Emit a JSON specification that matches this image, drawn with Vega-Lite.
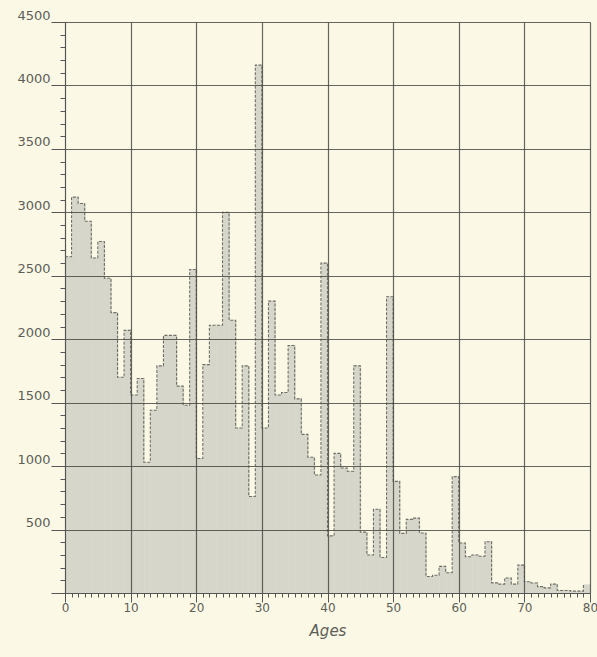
{
  "$schema": "https://vega.github.io/schema/vega-lite/v6.json",
  "autosize": "none",
  "width": 525,
  "height": 571,
  "padding": {"left": 65, "top": 22, "right": 7, "bottom": 64},
  "background": "#fbf9e6",
  "config": {
    "view": {"stroke": null},
    "axis": {"labelFont": "DejaVu Sans", "titleFont": "DejaVu Sans", "labelColor": "#5e5e58", "titleColor": "#5e5e58", "domainColor": "#555", "tickColor": "#555", "gridColor": "#4a4a44"}
  },
  "data": {
    "values": [
      {"age": 0, "count": 2650}, {"age": 1, "count": 3120}, {"age": 2, "count": 3070}, {"age": 3, "count": 2930},
      {"age": 4, "count": 2640}, {"age": 5, "count": 2770}, {"age": 6, "count": 2480}, {"age": 7, "count": 2210},
      {"age": 8, "count": 1700}, {"age": 9, "count": 2070}, {"age": 10, "count": 1560}, {"age": 11, "count": 1690},
      {"age": 12, "count": 1030}, {"age": 13, "count": 1440}, {"age": 14, "count": 1790}, {"age": 15, "count": 2030},
      {"age": 16, "count": 2030}, {"age": 17, "count": 1630}, {"age": 18, "count": 1480}, {"age": 19, "count": 2550},
      {"age": 20, "count": 1060}, {"age": 21, "count": 1800}, {"age": 22, "count": 2110}, {"age": 23, "count": 2110},
      {"age": 24, "count": 3000}, {"age": 25, "count": 2150}, {"age": 26, "count": 1300}, {"age": 27, "count": 1790},
      {"age": 28, "count": 760}, {"age": 29, "count": 4160}, {"age": 30, "count": 1300}, {"age": 31, "count": 2300},
      {"age": 32, "count": 1560}, {"age": 33, "count": 1580}, {"age": 34, "count": 1950}, {"age": 35, "count": 1530},
      {"age": 36, "count": 1250}, {"age": 37, "count": 1070}, {"age": 38, "count": 930}, {"age": 39, "count": 2600},
      {"age": 40, "count": 450}, {"age": 41, "count": 1100}, {"age": 42, "count": 985}, {"age": 43, "count": 960},
      {"age": 44, "count": 1790}, {"age": 45, "count": 480}, {"age": 46, "count": 300}, {"age": 47, "count": 660},
      {"age": 48, "count": 280}, {"age": 49, "count": 2335}, {"age": 50, "count": 880}, {"age": 51, "count": 470},
      {"age": 52, "count": 580}, {"age": 53, "count": 590}, {"age": 54, "count": 473}, {"age": 55, "count": 130},
      {"age": 56, "count": 140}, {"age": 57, "count": 210}, {"age": 58, "count": 160}, {"age": 59, "count": 917},
      {"age": 60, "count": 394}, {"age": 61, "count": 286}, {"age": 62, "count": 300}, {"age": 63, "count": 290},
      {"age": 64, "count": 404}, {"age": 65, "count": 80}, {"age": 66, "count": 70}, {"age": 67, "count": 118},
      {"age": 68, "count": 70}, {"age": 69, "count": 220}, {"age": 70, "count": 89}, {"age": 71, "count": 79},
      {"age": 72, "count": 50}, {"age": 73, "count": 40}, {"age": 74, "count": 70}, {"age": 75, "count": 20},
      {"age": 76, "count": 20}, {"age": 77, "count": 15}, {"age": 78, "count": 15}, {"age": 79, "count": 65}
    ]
  },
  "layer": [
    {
      "mark": {"type": "bar", "fill": "#d6d6cb", "stroke": "#d6d6cb", "strokeWidth": 0.6, "binSpacing": 0},
      "encoding": {
        "x": {
          "field": "age", "type": "quantitative", "bin": {"binned": true, "step": 1},
          "scale": {"domain": [0, 80], "nice": false, "zero": false},
          "axis": {
            "title": "Ages", "titleFontStyle": "italic", "titleFontWeight": "normal", "titleFontSize": 15, "titlePadding": 10,
            "tickCount": 500,
            "values": [0,1,2,3,4,5,6,7,8,9,10,11,12,13,14,15,16,17,18,19,20,21,22,23,24,25,26,27,28,29,30,31,32,33,34,35,36,37,38,39,40,41,42,43,44,45,46,47,48,49,50,51,52,53,54,55,56,57,58,59,60,61,62,63,64,65,66,67,68,69,70,71,72,73,74,75,76,77,78,79,80],
            "labelExpr": "datum.value % 10 == 0 ? datum.value : ''",
            "labelOverlap": false, "labelFontSize": 12, "labelPadding": 0, "labelFlush": false,
            "tickSize": {"condition": {"test": "datum.value % 10 == 0", "value": 9}, "value": 4},
            "grid": true,
            "gridOpacity": {"condition": {"test": "datum.value % 10 == 0", "value": 0.85}, "value": 0},
            "gridWidth": 1.2, "zindex": 1
          }
        },
        "y": {
          "field": "count", "type": "quantitative",
          "scale": {"domain": [0, 4500], "nice": false},
          "axis": {
            "title": null,
            "tickCount": 500,
            "values": [0,100,200,300,400,500,600,700,800,900,1000,1100,1200,1300,1400,1500,1600,1700,1800,1900,2000,2100,2200,2300,2400,2500,2600,2700,2800,2900,3000,3100,3200,3300,3400,3500,3600,3700,3800,3900,4000,4100,4200,4300,4400,4500],
            "labelExpr": "datum.value % 500 == 0 && datum.value > 0 ? datum.value : ''",
            "labelOverlap": false, "labelFontSize": 13, "labelPadding": 1, "labelBaseline": "bottom",
            "tickSize": {"condition": {"test": "datum.value % 500 == 0", "value": 14}, "value": 5},
            "grid": true,
            "gridOpacity": {"condition": {"test": "datum.value % 500 == 0", "value": 0.85}, "value": 0},
            "gridWidth": 1.2, "zindex": 1
          }
        }
      }
    },
    {
      "mark": {"type": "line", "interpolate": "step-after", "stroke": "#6f6f66", "strokeWidth": 1.1, "strokeDash": [3, 1.5]},
      "encoding": {
        "x": {"field": "age", "type": "quantitative"},
        "y": {"field": "count", "type": "quantitative"}
      }
    }
  ]
}
